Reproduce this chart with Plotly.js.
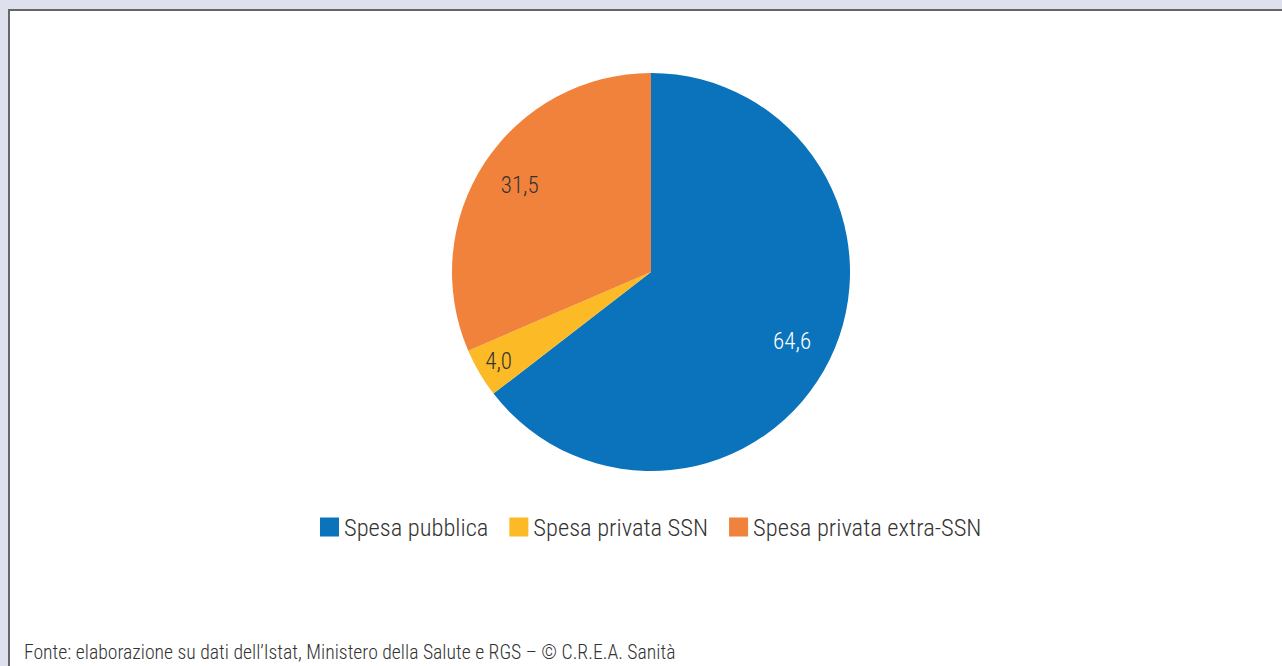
<!DOCTYPE html>
<html>
<head>
<meta charset="utf-8">
<script src="https://cdn.plot.ly/plotly-3.0.1.min.js"></script>
<style>html,body{margin:0;padding:0;background:#dfe0ee;}#chart{width:1282px;height:666px;}</style>
</head>
<body>
<div id="chart"></div>
<script>
const categories = ["Spesa pubblica", "Spesa privata SSN", "Spesa privata extra-SSN"];
const values = [64.6, 4.0, 31.5];
const colors = ["#0a73bb", "#fcba27", "#f0823b"];
const textColors = ["#ffffff", "#333333", "#333333"];
const sourceText = "Fonte: elaborazione su dati dell\u2019Istat, Ministero della Salute e RGS \u2013 \u00a9 C.R.E.A. Sanit\u00e0";

const W = 1282, H = 666;
const FONT = "Roboto Condensed, Liberation Sans Narrow, sans-serif";
const domain = {x: [452 / W, 850 / W], y: [(H - 471) / H, (H - 73) / H]};

// filled pie (no text)
const pieTrace = {
  type: "pie",
  labels: categories,
  values: values,
  sort: false,
  direction: "clockwise",
  rotation: 0,
  marker: {colors: colors, line: {width: 0}},
  textinfo: "none",
  hoverinfo: "label+value",
  domain: domain
};

// transparent ring overlay that carries the value labels toward the rim
const labelTrace = {
  type: "pie",
  labels: categories,
  values: values,
  sort: false,
  direction: "clockwise",
  rotation: 0,
  hole: 0.58,
  showlegend: false,
  marker: {colors: ["rgba(0,0,0,0)", "rgba(0,0,0,0)", "rgba(0,0,0,0)"], line: {width: 0}},
  textinfo: "value",
  texttemplate: "%{value:.1f}",
  textposition: "inside",
  insidetextorientation: "horizontal",
  textfont: {family: FONT, size: 23, weight: 300, color: textColors},
  hoverinfo: "skip",
  domain: domain
};

const layout = {
  width: W, height: H,
  margin: {l: 0, r: 0, t: 0, b: 0},
  paper_bgcolor: "#dfe0ee",
  separators: ",.",
  showlegend: true,
  legend: {
    orientation: "h", x: 0.5035, xanchor: "center", y: (H - 527) / H, yanchor: "middle",
    font: {family: FONT, size: 24.5, weight: 300, color: "#333333"},
    bgcolor: "rgba(0,0,0,0)", traceorder: "normal"
  },
  shapes: [
    {type: "rect", xref: "paper", yref: "paper", x0: 9 / W, x1: 1.01, y0: -0.01, y1: (H - 10) / H,
     fillcolor: "#ffffff", line: {color: "#666666", width: 2}, layer: "below"}
  ],
  annotations: [
    {text: sourceText, xref: "paper", yref: "paper", x: 22 / W, y: (H - 652) / H,
     xanchor: "left", yanchor: "middle", showarrow: false,
     font: {family: FONT, size: 19.7, weight: 300, color: "#333333"}}
  ]
};

Plotly.newPlot("chart", [pieTrace, labelTrace], layout, {displayModeBar: false, staticPlot: true}).then(function (gd) {
  // enlarge legend squares to match the reference's swatches
  gd.querySelectorAll("g.legend path.legendpie").forEach(function (p) {
    p.setAttribute("d", "M15,9.5H-4V-9.5H15Z");
  });
});
</script>
</body>
</html>
